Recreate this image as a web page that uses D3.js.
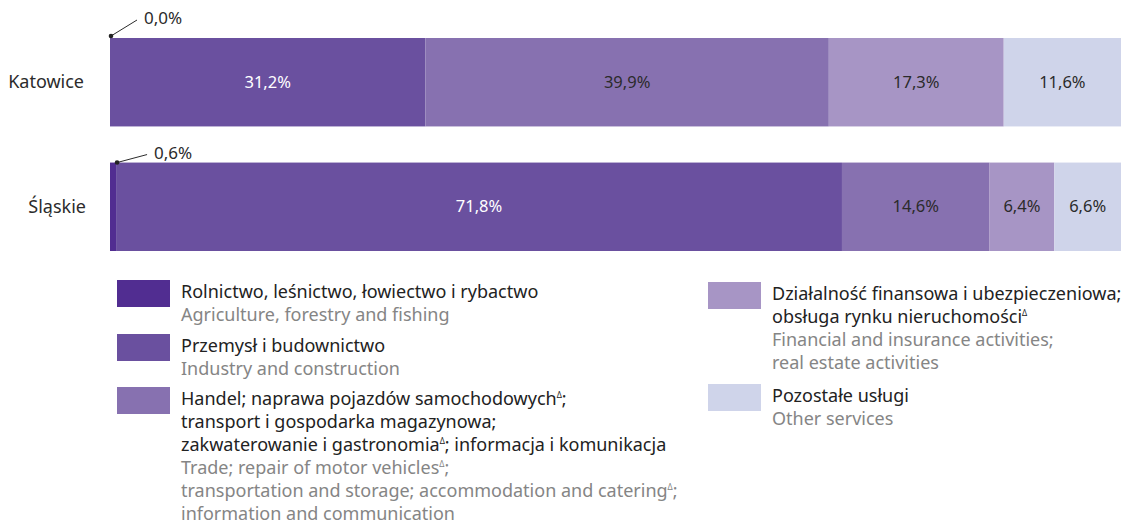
<!DOCTYPE html>
<html>
<head>
<meta charset="utf-8">
<script src="https://cdn.jsdelivr.net/npm/d3@7"></script>
<style>
  html, body { margin: 0; padding: 0; background: #fff; }
  svg { display: block; font-family: "Noto Sans", "Open Sans", sans-serif; }
</style>
</head>
<body>
<svg id="chart" width="1126" height="527"></svg>
<script>
// ---- data ----
const regions = ["Katowice", "Śląskie"];
const sectors = ["agri", "industry", "trade", "finance", "other"];
const katowiceValues = [0.0, 31.2, 39.9, 17.3, 11.6];
const slaskieValues = [0.6, 71.8, 14.6, 6.4, 6.6];
const valueLabelsKatowice = ["0,0%", "31,2%", "39,9%", "17,3%", "11,6%"];
const valueLabelsSlaskie = ["0,6%", "71,8%", "14,6%", "6,4%", "6,6%"];
const sectorColors = ["#512d91", "#6a509f", "#8771b0", "#a795c5", "#cfd4ea"];
// legend texts (^Δ marks superscript)
const legendPolish = [
  ["Rolnictwo, leśnictwo, łowiectwo i rybactwo"],
  ["Przemysł i budownictwo"],
  ["Handel; naprawa pojazdów samochodowych^Δ;", "transport i gospodarka magazynowa;", "zakwaterowanie i gastronomia^Δ; informacja i komunikacja"],
  ["Działalność finansowa i ubezpieczeniowa;", "obsługa rynku nieruchomości^Δ"],
  ["Pozostałe usługi"]
];
const legendEnglish = [
  ["Agriculture, forestry and fishing"],
  ["Industry and construction"],
  ["Trade; repair of motor vehicles^Δ;", "transportation and storage; accommodation and catering^Δ;", "information and communication"],
  ["Financial and insurance activities;", "real estate activities"],
  ["Other services"]
];

const valuesByRegion = [katowiceValues, slaskieValues];
const labelsByRegion = [valueLabelsKatowice, valueLabelsSlaskie];

// ---- scales ----
const svg = d3.select("#chart");
const x = d3.scaleLinear().domain([0, 100]).range([110, 1121]);
const y = d3.scaleBand().domain(regions).range([38, 251]).paddingInner(0.29).paddingOuter(0);
const color = d3.scaleOrdinal().domain(sectors).range(sectorColors);

// stacked data
const stacked = regions.map((r, ri) => {
  let acc = 0;
  return valuesByRegion[ri].map((v, si) => {
    const d = { region: r, sector: sectors[si], value: v, x0: acc, x1: acc + v, label: labelsByRegion[ri][si], si };
    acc += v;
    return d;
  });
});

const rows = svg.selectAll("g.row").data(stacked).join("g").attr("class", "row");

rows.selectAll("rect").data(d => d).join("rect")
  .attr("x", d => x(d.x0))
  .attr("y", d => y(d.region))
  .attr("width", d => Math.max(0, x(d.x1) - x(d.x0)))
  .attr("height", y.bandwidth())
  .attr("fill", d => color(d.sector));

// in-bar labels
rows.selectAll("text.val").data(d => d.filter(e => e.si > 0)).join("text")
  .attr("class", "val")
  .attr("x", d => (x(d.x0) + x(d.x1)) / 2)
  .attr("y", d => y(d.region) + y.bandwidth() / 2 + 5.5)
  .attr("text-anchor", "middle")
  .attr("font-size", 16.5)
  .attr("fill", d => d.si === 1 ? "#ffffff" : "#2b2b2b")
  .text(d => d.label);

// small-value callouts
const small = stacked.map(r => r[0]);
small.forEach((d, i) => {
  const px = x(d.x1) + 1;
  const py = y(d.region) - (i === 0 ? 2 : 0);
  const ex = px + (i === 0 ? 26 : 30);
  const ey = py - (i === 0 ? 16 : 8);
  svg.append("line").attr("x1", px).attr("y1", py).attr("x2", ex).attr("y2", ey)
    .attr("stroke", "#2b2b2b").attr("stroke-width", 1);
  svg.append("circle").attr("cx", px).attr("cy", py).attr("r", 2.3).attr("fill", "#222");
  svg.append("text").attr("x", ex + 7).attr("y", ey + 4)
    .attr("font-size", 17).attr("fill", "#2b2b2b").text(d.label);
});

// region labels
svg.selectAll("text.region").data(regions).join("text")
  .attr("class", "region")
  .attr("x", (d, i) => i === 0 ? 84 : 86)
  .attr("y", d => y(d) + y.bandwidth() / 2 + 6)
  .attr("text-anchor", "end")
  .attr("font-size", 18)
  .attr("fill", "#2b2b2b")
  .text(d => d);

// ---- legend ----
const lineH = 23;
const legendLayout = [
  { col: 0, top: 280 },
  { col: 0, top: 334 },
  { col: 0, top: 387 },
  { col: 1, top: 282 },
  { col: 1, top: 384 }
];
const colX = [117, 708];
const textX = [181, 772];

function addRichLine(sel, str) {
  const parts = str.split("^Δ");
  let shifted = false;
  parts.forEach((p, k) => {
    if (p.length) {
      const ts = sel.append("tspan").text(p);
      if (shifted) { ts.attr("dy", 7); shifted = false; }
    }
    if (k < parts.length - 1) {
      sel.append("tspan").attr("font-size", 8).attr("dy", -7).text("Δ");
      shifted = true;
    }
  });
}

sectors.forEach((s, i) => {
  const L = legendLayout[i];
  const g = svg.append("g");
  g.append("rect").attr("x", colX[L.col]).attr("y", L.top).attr("width", 53).attr("height", 27)
    .attr("fill", color(s));
  let baseline = L.top + 18;
  legendPolish[i].forEach(line => {
    const t = g.append("text").attr("x", textX[L.col]).attr("y", baseline)
      .attr("font-size", 18).attr("fill", "#222");
    addRichLine(t, line);
    baseline += lineH;
  });
  legendEnglish[i].forEach(line => {
    const t = g.append("text").attr("x", textX[L.col]).attr("y", baseline)
      .attr("font-size", 18).attr("fill", "#858585");
    addRichLine(t, line);
    baseline += lineH;
  });
});
</script>
</body>
</html>
